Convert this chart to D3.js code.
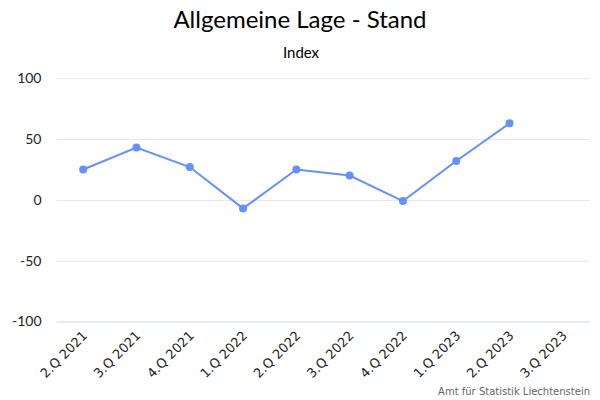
<!DOCTYPE html>
<html><head><meta charset="utf-8">
<script src="https://cdn.jsdelivr.net/npm/d3@7"></script>
<style>body{margin:0;background:#fff}svg{display:block;font-family:Lato,"DejaVu Sans",sans-serif}</style>
</head><body><svg id="c" width="600" height="400"></svg>
<script>
const categories = ["2.Q 2021","3.Q 2021","4.Q 2021","1.Q 2022","2.Q 2022","3.Q 2022","4.Q 2022","1.Q 2023","2.Q 2023","3.Q 2023"];
const values = [25, 43, 27, -7, 25, 20, -1, 32, 63, null];
const yTicks = [-100, -50, 0, 50, 100];
const titleText = "Allgemeine Lage - Stand";
const subtitleText = "Index";
const creditText = "Amt für Statistik Liechtenstein";

(function () {
const svg = d3.select("#c");
const mLeft = 56.5, mRight = 589.5, mTop = 78.3, mBottom = 321.5;
const x = d3.scaleBand().domain(categories).range([mLeft, mRight]);
const y = d3.scaleLinear().domain([-100, 100]).range([mBottom, mTop]);

svg.append("text").attr("x", 300).attr("y", 28).attr("text-anchor", "middle")
  .attr("font-size", 24).attr("fill", "#000").text(titleText);
svg.append("text").attr("x", 301).attr("y", 58).attr("text-anchor", "middle")
  .attr("font-size", 15).attr("fill", "#000").text(subtitleText);

const grid = svg.append("g").attr("transform", `translate(${mLeft},0)`)
  .call(d3.axisLeft(y).tickValues(yTicks).tickSize(-(mRight - mLeft)).tickFormat(""));
grid.select(".domain").remove();
grid.selectAll(".tick line").attr("stroke", "#e6e6e6").attr("stroke-width", 1);
grid.selectAll(".tick").filter(d => d === -100).select("line").attr("stroke", "#ccd6eb");

const ya = svg.append("g").attr("transform", `translate(${mLeft - 15},0)`)
  .call(d3.axisLeft(y).tickValues(yTicks).tickSize(0).tickPadding(0).tickFormat(d => String(d)));
ya.select(".domain").remove();
ya.selectAll("text").attr("font-size", 14).attr("fill", "#222").attr("font-family", "Lato, sans-serif");

const xa = svg.append("g").attr("transform", `translate(0,${mBottom})`)
  .call(d3.axisBottom(x).tickSize(0).tickPadding(0));
xa.select(".domain").remove();
xa.selectAll("text").attr("font-size", 13).attr("fill", "#222")
  .attr("font-family", "'DejaVu Sans', sans-serif")
  .attr("text-anchor", "end").attr("dy", null).attr("y", 0)
  .attr("transform", "translate(5,15) rotate(-45)");

const cx = d => x(d) + x.bandwidth() / 2;
const pts = categories.map((c, i) => ({c, v: values[i]}));
const line = d3.line().defined(d => d.v != null).x(d => cx(d.c)).y(d => y(d.v));
svg.append("path").datum(pts).attr("d", line).attr("fill", "none")
  .attr("stroke", "#6690fb").attr("stroke-width", 2);
svg.append("g").selectAll("circle").data(pts.filter(d => d.v != null)).join("circle")
  .attr("cx", d => cx(d.c)).attr("cy", d => y(d.v)).attr("r", 4).attr("fill", "#6690fb");

svg.append("text").attr("x", 590).attr("y", 395).attr("text-anchor", "end")
  .attr("font-family", "'DejaVu Sans', sans-serif")
  .attr("font-size", 10).attr("fill", "#666").text(creditText);
})();
</script></body></html>
